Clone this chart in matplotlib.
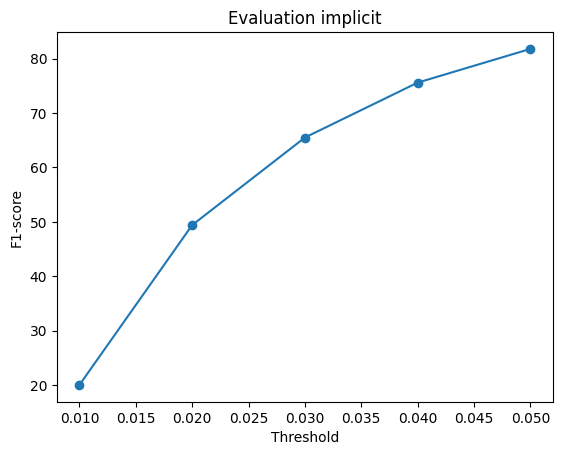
import matplotlib
matplotlib.use("Agg")
import matplotlib.pyplot as plt

thresholds = [0.01, 0.02, 0.03, 0.04, 0.05]
f1_scores = [20.0, 49.4, 65.5, 75.6, 81.8]

fig, ax = plt.subplots(figsize=(6.4, 4.8))
ax.plot(thresholds, f1_scores, marker="o")
ax.set_title("Evaluation implicit")
ax.set_xlabel("Threshold")
ax.set_ylabel("F1-score")

fig.savefig("out.png", dpi=100, bbox_inches="tight")
plt.close(fig)
